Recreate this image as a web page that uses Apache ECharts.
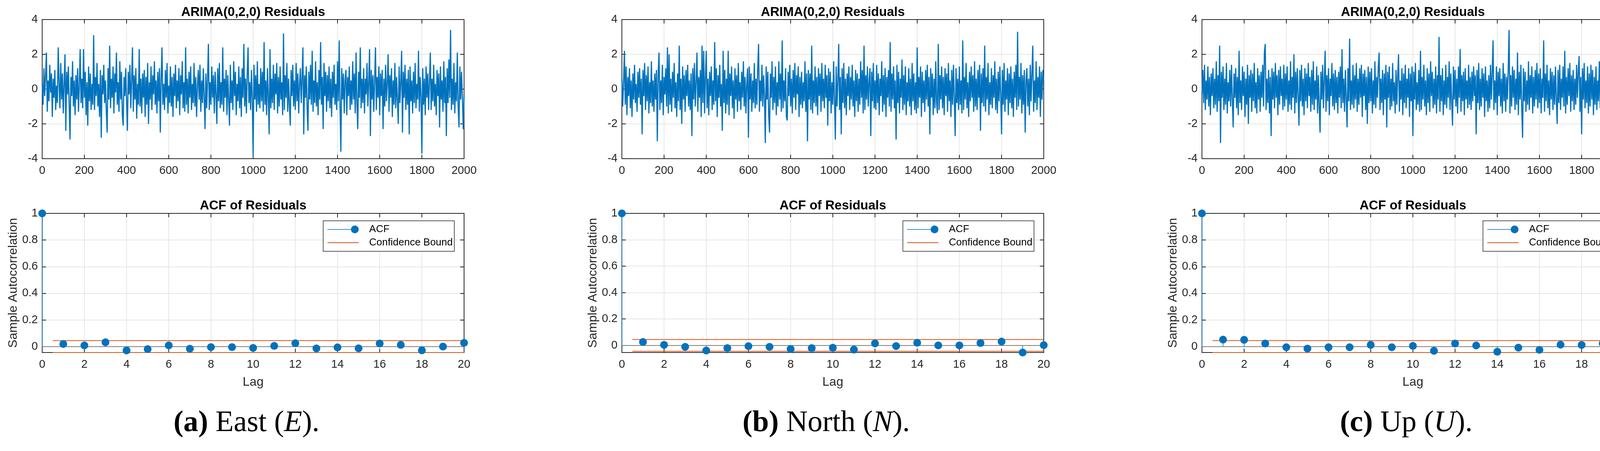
<!DOCTYPE html>
<html>
<head>
<meta charset="utf-8">
<script src="https://cdn.jsdelivr.net/npm/echarts@6/dist/echarts.min.js"></script>
<style>
html, body { margin: 0; padding: 0; background: #fff; }
#chart { width: 4205px; height: 1154px; }
</style>
</head>
<body>
<div id="chart"></div>
<script>
// residuals, one value every 4 samples (0..2000)
var resE = [
  0.3,-0.9,1.2,-0.4,0.8,2.1,-1.3,0.5,-0.7,1.4,-0.2,0.9,-1.6,0.6,-0.5,1.1,-1.2,0.2,-0.8,2.4,
  0.4,-1.1,1.5,-0.6,0.9,-1.4,0.3,2.0,-2.4,1.0,-0.3,1.3,-0.9,-2.9,0.7,-0.4,1.6,-1.0,0.5,-1.5,
  0.8,-0.6,1.2,-1.3,0.2,2.3,-0.8,0.6,-1.1,2.3,-0.5,1.0,-1.5,0.4,-2.1,1.3,-0.7,0.9,-1.2,0.3,
  -0.9,3.1,-1.2,0.7,-0.4,1.5,-1.0,0.3,-1.6,1.1,-2.8,0.8,-0.3,1.4,-0.8,0.5,-1.3,-2.5,1.2,-0.6,
  2.5,-1.1,0.6,-0.5,1.3,-1.4,0.9,-0.2,2.1,-0.9,0.4,-1.3,1.6,-0.6,1.0,-1.5,-2.1,0.7,-0.4,1.2,
  -0.7,-2.4,1.0,-0.3,1.4,-1.1,0.5,2.4,-1.3,0.8,-0.6,1.2,-1.7,0.3,-0.9,2.3,-1.0,0.6,-1.4,0.9,
  -0.5,1.1,-1.6,0.7,-0.9,1.5,-2.0,0.4,-0.6,1.3,-1.2,0.8,-0.3,1.6,-0.9,0.5,-1.4,1.0,-0.7,1.2,
  -2.5,0.6,2.4,-0.9,0.3,-1.2,1.1,-0.5,1.5,-1.4,0.2,-0.8,1.3,-1.0,0.7,-1.6,0.9,-0.4,1.4,-1.1,
  0.5,-0.7,1.2,-1.5,0.8,-0.3,1.6,-1.1,0.4,-1.3,2.4,-0.9,0.6,-1.4,1.0,-0.5,1.3,-1.2,0.3,-0.8,
  1.5,-1.0,0.7,-1.6,0.2,1.1,-0.6,1.4,-1.3,0.5,-0.8,1.2,-0.4,-2.3,0.9,-1.1,0.6,2.6,-1.2,0.4,
  -0.9,1.3,-0.5,0.8,-1.4,1.0,-0.3,-2.0,1.2,-0.7,1.5,-1.1,0.4,-0.9,2.4,-1.3,0.6,-0.5,1.1,-1.5,
  0.8,-0.6,-2.1,1.4,-0.8,0.5,-1.2,1.6,-0.4,1.0,-1.5,0.3,-0.7,1.3,-1.1,0.7,-1.6,1.2,-0.5,2.6,
  -1.0,0.6,-1.4,0.9,2.4,-0.8,0.4,-1.2,1.1,-0.5,-3.8,1.4,-0.6,0.8,-1.3,1.6,-0.9,0.3,-1.1,1.2,
  -0.7,1.0,-1.3,2.7,-0.9,0.5,-1.5,1.2,-0.4,-2.6,2.3,-1.1,0.6,-0.8,1.4,-1.2,0.9,-0.3,1.5,-1.4,
  0.7,-1.0,1.3,-0.6,0.4,-1.5,3.2,-1.2,0.8,-0.5,1.5,-1.3,0.6,-0.9,-2.1,1.1,-0.4,1.4,-1.0,0.5,
  -1.2,1.5,-0.7,0.9,-1.4,0.3,1.2,-0.8,0.6,2.4,-2.6,0.8,-0.5,1.3,-1.1,-2.4,1.0,-0.6,1.4,-0.9,
  2.2,-1.3,0.5,-0.8,1.6,-1.0,0.4,-1.5,1.1,-0.6,2.7,-0.9,0.7,-2.3,1.5,-0.4,1.0,-1.3,0.8,-0.7,
  1.3,-1.1,0.6,-1.6,1.0,-0.5,1.4,-0.9,0.3,-1.2,1.6,-0.7,2.8,-1.0,-3.6,1.2,-0.6,0.9,-1.4,0.5,
  1.1,-1.5,0.7,-0.4,1.3,-1.2,0.5,-0.9,1.6,-0.6,0.9,-1.4,2.1,-0.8,-2.3,1.0,-0.5,2.4,-1.1,0.6,
  -0.8,1.2,-1.4,0.6,-0.3,1.5,-1.0,0.4,2.3,-2.7,1.1,-0.6,0.8,-1.3,0.5,2.4,-1.2,0.7,-0.5,1.3,
  -1.5,0.9,-0.4,1.1,-2.3,0.6,-1.0,1.4,-0.7,0.3,2.0,-1.3,0.8,-0.5,1.2,-1.6,0.5,-0.9,1.5,-1.1,
  0.7,-0.6,-2.0,1.3,-0.8,0.4,2.2,-2.5,1.0,-0.5,1.4,-1.2,0.6,-0.9,1.1,-2.6,1.3,-0.7,0.5,-1.4,
  1.0,-0.8,1.5,-1.1,0.3,-0.6,2.2,-1.3,0.7,-0.4,-3.7,1.2,-0.9,0.6,-1.5,1.3,-0.5,0.9,-1.2,0.4,
  2.1,-1.2,0.6,-0.7,1.4,-1.0,0.3,-1.5,1.1,-0.4,0.9,-2.2,1.3,-0.6,0.5,-1.3,1.6,-0.8,0.7,-2.7,
  1.2,-0.8,1.7,-0.5,3.4,-1.2,0.6,-0.9,1.5,-1.4,0.4,-0.7,2.1,-1.0,-2.2,1.3,-0.6,1.0,-0.4,-2.3,
  -0.4
];
var resN = [
  0.6,-1.0,0.4,2.2,-0.9,1.3,-1.5,0.7,-0.4,1.2,-1.1,0.5,-1.6,0.9,-0.6,1.4,-0.8,0.3,-1.3,1.0,
  -0.5,1.2,-0.9,0.6,-2.6,1.1,-0.4,1.5,-1.2,0.8,-0.7,1.3,-1.4,0.4,-0.8,1.6,-1.0,0.5,-1.3,0.9,
  -0.6,1.1,-3.0,0.8,2.1,-1.2,0.5,-0.8,1.4,-1.5,0.7,-0.3,1.2,-1.0,2.4,-1.4,2.0,-0.9,0.6,-1.3,
  1.0,-0.5,1.5,-1.1,0.4,-1.6,0.9,-0.7,2.5,-1.2,0.6,-2.0,1.3,-0.6,0.8,-1.3,1.1,-0.4,1.4,-1.0,
  0.5,-1.2,0.9,-2.7,1.2,-0.6,1.5,-1.0,0.4,2.1,-1.3,0.7,-0.5,1.1,-1.6,2.5,-0.8,2.2,-1.4,0.6,
  2.2,-1.1,0.6,-1.5,1.0,-0.4,1.3,-1.2,0.5,-0.9,2.7,-0.7,1.2,-1.6,0.8,-0.5,1.4,-1.0,0.3,-2.4,
  2.2,-0.8,1.1,-1.4,0.6,-0.9,2.2,-1.5,0.9,-0.4,1.3,-1.1,0.5,-1.7,1.2,-0.6,0.8,-1.3,1.5,-0.7,
  0.4,-1.2,1.0,-0.5,1.6,-1.0,0.7,-1.4,0.3,1.2,-2.8,1.3,-0.6,0.9,-1.3,0.5,-0.8,1.5,-1.1,0.6,
  -0.9,1.2,2.6,-1.3,0.5,-0.7,1.4,-1.0,0.8,-0.4,-3.1,1.3,-0.6,1.0,-1.5,-2.5,0.9,-0.5,1.6,-1.2,
  0.7,-0.8,1.3,-1.5,0.4,-1.0,1.6,-0.6,0.9,-1.3,2.8,-1.1,0.5,-0.7,1.2,-1.6,-1.8,1.0,-0.4,1.4,
  -1.0,0.6,-1.4,1.1,-0.5,1.5,-1.2,0.8,-0.3,1.3,-1.6,0.7,-0.9,1.0,-1.1,0.4,-0.7,1.6,-1.3,0.9,
  -3.0,1.1,-0.6,0.9,-1.2,2.5,-1.4,0.5,-0.8,1.3,-1.0,0.7,-1.5,1.2,-0.4,0.9,-1.3,1.5,-0.7,0.6,
  -1.1,1.4,-0.5,0.8,-2.1,1.2,-0.7,1.0,-1.4,0.4,-0.9,1.6,-0.6,-2.9,1.3,-1.0,0.5,2.6,-1.2,0.7,
  -2.6,1.2,-0.8,1.5,-1.1,0.6,-1.5,0.9,-0.4,1.3,-1.2,0.7,-0.6,1.4,-1.0,0.5,-1.6,1.1,-0.7,0.9,
  -1.3,0.6,-0.9,1.6,-0.5,1.1,-1.4,2.5,-1.2,0.8,-0.6,1.3,-1.0,0.4,1.2,-2.7,1.0,-0.7,1.5,-1.1,
  0.5,-1.2,1.4,-0.8,0.9,-1.5,0.6,-0.4,1.6,-1.3,0.8,-0.9,1.2,-1.6,0.7,-0.5,1.1,-1.0,2.7,-1.3,
  0.9,-0.6,1.3,-1.1,0.5,-2.9,1.4,-0.8,1.0,-1.4,0.6,-0.5,1.7,-1.2,0.8,-0.9,1.3,-1.5,0.4,-0.7,
  1.2,-1.0,0.6,-1.5,1.5,-0.7,0.9,-1.2,0.4,-1.4,2.4,-1.1,0.7,-0.5,1.3,-1.6,1.0,-0.8,0.5,-1.3,
  1.1,-0.6,1.4,-1.0,0.7,-2.6,1.2,-0.5,0.9,-1.5,0.6,-1.1,1.6,-0.8,-1.4,2.6,-1.2,0.8,-0.6,1.3,
  -1.1,0.7,-1.5,1.2,-0.4,0.9,-1.3,1.5,-0.7,0.5,-1.6,1.1,-0.9,1.4,-0.5,-2.7,1.2,-0.8,0.6,-1.2,
  1.3,-0.9,0.5,-1.4,2.8,-1.2,0.7,-0.6,1.5,-1.1,0.4,-1.6,1.0,-0.7,1.3,-0.5,0.8,-1.3,1.6,-1.0,
  0.6,-1.2,1.1,-0.5,1.4,-2.4,0.9,-0.8,1.2,-1.0,2.5,-1.3,0.7,-0.6,1.5,-1.5,0.4,-0.9,1.2,-1.1,
  0.8,-0.5,1.6,-1.2,0.6,-1.4,1.0,-0.7,1.3,-0.4,-2.6,1.1,-0.9,1.5,-1.3,0.5,-0.6,1.2,-1.5,0.9,
  -0.8,1.3,-1.1,0.6,-1.6,1.0,-0.5,1.4,-1.2,3.3,-1.0,0.7,-0.6,1.5,-1.4,0.8,-0.9,1.1,-2.5,0.5,
  1.2,-1.0,0.6,-1.5,1.4,-0.7,0.9,2.5,-1.3,0.5,-0.8,1.6,-1.2,0.7,-0.5,1.3,-1.6,1.0,-0.6,1.1,
  0.4
];
var resU = [
  -0.3,1.1,-0.8,1.4,-1.2,0.5,-0.6,1.3,-1.0,0.7,-1.5,0.9,-0.4,1.2,-1.1,0.6,-0.9,1.6,-1.3,0.8,
  -0.7,2.5,-3.1,1.0,-0.5,1.3,-1.2,0.6,-0.9,1.5,-1.4,0.4,-0.7,1.1,-1.0,1.4,-0.6,-2.2,0.9,-0.5,
  1.2,-1.1,0.7,-1.5,2.2,-0.8,0.5,-1.2,1.3,-0.4,1.0,-1.6,0.6,-0.9,1.4,-2.0,0.8,-0.5,1.1,-1.3,
  0.9,-0.7,1.5,-1.1,0.4,-1.4,1.2,-0.6,0.8,-1.3,1.0,-0.5,1.4,-1.0,2.1,2.6,-1.2,0.6,-0.8,1.1,
  -1.4,0.7,-2.7,1.2,-0.6,1.0,-1.1,1.5,-0.5,0.8,-1.5,1.1,-0.9,1.3,-0.4,0.6,-1.2,1.4,-1.0,0.9,
  -0.6,1.3,-1.3,0.5,-0.9,1.6,-1.2,0.7,-0.5,2.0,-1.4,1.0,-0.8,1.2,-0.4,-2.1,1.1,-0.7,1.4,-1.0,
  0.6,-1.5,1.2,-0.7,0.9,-1.1,1.5,-0.4,0.7,-1.3,1.1,-0.9,1.6,-1.2,0.5,-0.6,1.3,-1.4,0.8,-1.0,
  -2.5,1.0,-0.6,1.4,-1.1,0.5,2.2,-1.3,0.8,-0.7,1.2,-1.5,0.6,-0.4,1.5,-1.0,0.9,-1.2,1.1,-0.8,
  0.7,-1.4,1.0,-0.5,1.3,-1.1,2.3,-0.8,0.6,-1.3,1.1,-0.6,-2.2,1.2,-0.7,2.9,-1.2,0.5,-0.9,1.4,
  -1.1,0.8,-0.6,1.5,-1.3,0.6,-0.9,1.2,-0.5,1.4,-1.6,0.9,-0.4,1.1,-1.2,0.7,-2.0,1.3,-0.8,1.0,
  -0.7,1.2,-1.4,0.5,-0.9,1.6,-1.1,0.7,-0.5,1.3,2.1,-1.2,0.6,-0.8,1.1,-1.5,0.9,-0.6,1.4,-2.2,
  1.0,-0.5,1.3,-1.2,0.6,-1.0,1.5,-0.7,0.4,-1.4,1.1,-0.9,0.8,2.0,-1.3,0.5,-0.6,1.2,-1.5,0.9,
  -0.8,1.4,-1.1,0.6,-0.5,1.2,-1.6,0.9,-0.7,1.3,-2.7,1.0,-0.6,1.5,-1.2,0.4,-0.9,1.1,-1.3,2.2,
  -1.2,0.7,-0.6,1.4,-1.0,0.5,-1.5,1.2,-0.8,0.9,-1.3,1.6,-0.4,1.0,-1.1,0.6,-0.9,1.3,-1.4,0.8,
  -0.6,3.0,-1.3,0.8,-0.7,1.2,-1.5,0.5,-0.9,1.4,-1.1,0.7,-0.5,1.6,-1.2,0.9,-0.8,-2.1,1.3,-0.6,
  1.1,-1.0,0.6,-1.4,1.3,-0.5,2.3,-1.3,0.8,-0.7,1.0,-1.5,1.2,-0.6,0.5,-1.1,1.4,-0.9,0.7,-1.2,
  1.0,-0.7,1.3,-0.4,0.8,-2.6,1.1,-0.8,1.5,-1.2,0.6,-1.0,1.2,-0.5,0.9,-1.6,1.3,-0.7,0.5,-1.3,
  0.8,-1.1,1.4,-0.6,0.9,2.8,-1.2,0.5,-0.8,1.3,-1.5,1.0,-0.4,1.2,-1.0,0.6,-1.4,1.5,-0.7,0.9,
  -1.3,0.7,-0.6,1.2,3.4,-1.4,0.8,-1.0,1.3,-0.5,1.1,-1.2,0.6,-0.9,2.1,-1.5,1.0,-0.6,1.4,-1.1,
  -2.8,1.2,-0.7,1.0,-1.3,0.5,-0.9,1.6,-1.2,0.8,-0.5,1.3,-1.4,0.7,-1.0,1.1,-0.6,1.5,-1.1,0.9,
  -0.8,1.2,-1.4,0.6,-0.5,2.8,-1.3,0.9,-0.7,1.4,-1.1,0.5,-1.5,1.2,-0.6,1.0,-1.2,0.8,-0.9,1.3,
  -0.6,-2.0,1.1,-0.8,1.4,-1.2,0.6,-0.5,1.3,-1.0,2.2,-1.4,0.7,-0.9,1.2,-0.4,1.5,-1.3,0.8,-0.7,
  1.1,-1.2,0.6,-0.9,1.4,-0.5,1.0,1.9,-1.3,0.7,-2.6,1.2,-0.6,1.5,-1.1,0.5,-0.8,1.3,-1.4,0.9,
  -1.0,1.4,-0.6,1.1,-1.5,0.7,-0.9,1.3,-1.2,0.5,-0.7,1.6,-1.1,0.8,-0.5,1.2,-1.4,1.0,-0.8,1.3,
  -0.6,2.7,-1.2,0.9,-0.7,-2.5,1.3,-1.0,0.6,-1.4,1.1,-0.5,1.2,-1.3,0.8,-0.9,1.5,-1.1,0.6,1.3,
  0.2
];
var resStep = 4;

// sample autocorrelation, lags 0..20
var lags = [0,1,2,3,4,5,6,7,8,9,10,11,12,13,14,15,16,17,18,19,20];
var acfE = [1,0.019,0.009,0.032,-0.029,-0.019,0.009,-0.016,-0.004,-0.004,-0.010,0.005,0.025,-0.014,-0.006,-0.013,0.023,0.013,-0.028,0.000,0.028];
var acfN = [1,0.026,0.004,-0.011,-0.039,-0.021,-0.006,-0.011,-0.027,-0.021,-0.018,-0.032,0.015,-0.005,0.020,0.000,0.000,0.018,0.029,-0.054,0.002];
var acfU = [1,0.052,0.051,0.023,-0.005,-0.015,-0.005,-0.005,0.013,-0.005,0.005,-0.032,0.023,0.008,-0.039,-0.008,-0.025,0.014,0.012,0.023,0.027];
var confBound = 0.0447;
var boundLags = [0.5, 20];

var resTitle = 'ARIMA(0,2,0) Residuals';
var acfTitle = 'ACF of Residuals';
var capTags = ['(a)', '(b)', '(c)'];
var capNames = ['East', 'North', 'Up'];
var capSymbols = ['E', 'N', 'U'];

var W = 4205;
var panelLeft = [108, 1592, 3077];
var plotW = 1080, plotH = 356;
var resTop = 50, acfTop = 546;

var sans = "'Liberation Sans', Arial, Helvetica, sans-serif";
var serif = "'Liberation Serif', 'Times New Roman', serif";
var axisColor = '#262626';
var blue = '#0072BD', orange = '#D95319';

var option = {
    animation: false,
    backgroundColor: '#ffffff',
    grid: [], xAxis: [], yAxis: [], series: [], legend: [], graphic: []
};

function plain(v) { return String(v); }

function addAxes(g, xr, yr, xName, yName, hideMinY) {
    var line = { show: true, onZero: false, lineStyle: { color: axisColor, width: 2 } };
    var tick = { show: true, inside: true, length: 10, lineStyle: { color: axisColor, width: 2 } };
    var split = { show: true, lineStyle: { color: '#dfdfdf', width: 1.5 } };
    var lab = { fontFamily: sans, fontSize: 29, color: axisColor };
    option.xAxis.push(Object.assign({
        type: 'value', gridIndex: g, position: 'bottom',
        axisLine: line, axisTick: tick, splitLine: split,
        axisLabel: Object.assign({ margin: 16, formatter: plain }, lab),
        name: xName || '', nameLocation: 'middle', nameGap: 60,
        nameTextStyle: { fontFamily: sans, fontSize: 32, color: axisColor }
    }, xr));
    option.xAxis.push(Object.assign({
        type: 'value', gridIndex: g, position: 'top',
        axisLine: line, axisTick: tick, splitLine: { show: false }, axisLabel: { show: false }
    }, xr));
    option.yAxis.push(Object.assign({
        type: 'value', gridIndex: g, position: 'left',
        axisLine: line, axisTick: tick, splitLine: split,
        axisLabel: Object.assign({ margin: 11, formatter: plain, showMinLabel: !hideMinY }, lab),
        name: yName || '', nameLocation: 'middle', nameGap: 58,
        nameTextStyle: { fontFamily: sans, fontSize: 32, color: axisColor }
    }, yr));
    option.yAxis.push(Object.assign({
        type: 'value', gridIndex: g, position: 'right',
        axisLine: line, axisTick: tick, splitLine: { show: false }, axisLabel: { show: false }
    }, yr));
}

function addTitle(text, cx, cy) {
    option.graphic.push({
        type: 'text', x: cx, y: cy, silent: true,
        style: { text: text, fill: '#000', fontFamily: sans, fontSize: 33, fontWeight: 'bold', align: 'center', verticalAlign: 'middle' }
    });
}

// legend icons: stem line with a marker at its end, and a plain bound line
var acfIcon = 'path://M0,9.25L70,9.25L70,10.75L0,10.75Z M80,10A10,10,0,1,1,60,10A10,10,0,1,1,80,10Z';
var boundIcon = 'path://M0,0L80,0L80,2L0,2Z';

[[resE, acfE], [resN, acfN], [resU, acfU]].forEach(function (pair, p) {
    var res = pair[0], acf = pair[1];
    var left = panelLeft[p];

    // residual series
    var g = option.grid.length;
    option.grid.push({ left: left, top: resTop, width: plotW, height: plotH, containLabel: false, outerBoundsMode: 'none' });
    addAxes(g, { min: 0, max: 2000, interval: 200 }, { min: -4, max: 4, interval: 2 });
    option.series.push({
        type: 'line', xAxisIndex: 2 * g, yAxisIndex: 2 * g, silent: true,
        data: res.map(function (v, i) { return [i * resStep, v]; }),
        symbol: 'none', showSymbol: false, sampling: null,
        lineStyle: { color: blue, width: 3 }, itemStyle: { color: blue }, z: 2
    });
    addTitle(resTitle, left + plotW / 2, 32);

    // ACF stem plot
    var ymin = Math.min(Math.min.apply(null, acf), -confBound);
    g = option.grid.length;
    option.grid.push({ left: left, top: acfTop, width: plotW, height: plotH, containLabel: false, outerBoundsMode: 'none' });
    addAxes(g, { min: 0, max: 20, interval: 2 }, { min: ymin, max: 1, splitNumber: 5 }, 'Lag', 'Sample Autocorrelation', true);
    var pts = lags.map(function (l, i) { return [l, acf[i]]; });
    option.series.push({
        type: 'scatter', name: 'ACF', xAxisIndex: 2 * g, yAxisIndex: 2 * g, silent: true,
        data: pts, symbol: 'circle', symbolSize: 20, clip: false,
        itemStyle: { color: blue, opacity: 1 }, z: 5
    });
    option.series.push({
        type: 'bar', name: 'ACF', xAxisIndex: 2 * g, yAxisIndex: 2 * g, silent: true,
        data: pts, barWidth: 1.5, itemStyle: { color: blue }, z: 4,
        markLine: {
            silent: true, symbol: ['none', 'none'], label: { show: false },
            lineStyle: { color: '#808080', width: 2, type: 'solid' },
            data: [{ yAxis: 0 }]
        }
    });
    [confBound, -confBound].forEach(function (b) {
        option.series.push({
            type: 'line', name: 'Confidence Bound', xAxisIndex: 2 * g, yAxisIndex: 2 * g, silent: true,
            data: boundLags.map(function (l) { return [l, b]; }),
            symbol: 'none', showSymbol: false,
            lineStyle: { color: orange, width: 2 }, itemStyle: { color: orange }, z: 3
        });
    });
    addTitle(acfTitle, left + plotW / 2, 527);

    option.legend.push({
        orient: 'vertical', right: W - (left + plotW - 25), top: 565,
        data: [{ name: 'ACF', icon: acfIcon }, { name: 'Confidence Bound', icon: boundIcon }],
        itemWidth: 80, itemHeight: 20, itemGap: 8, padding: [9, 4, 9, 11],
        symbolKeepAspect: true,
        borderColor: axisColor, borderWidth: 1.5, backgroundColor: '#fff',
        selectedMode: false, z: 10,
        formatter: function (n) { return '   ' + n; },
        textStyle: { fontFamily: sans, fontSize: 26, color: '#000' }
    });

    // caption under the panel
    option.graphic.push({
        type: 'text', x: left + 523, y: 1083, silent: true,
        style: {
            text: '{b|' + capTags[p] + '} ' + capNames[p] + ' ({i|' + capSymbols[p] + '}).',
            fill: '#000', fontFamily: serif, fontSize: 76, align: 'center', verticalAlign: 'middle',
            rich: {
                b: { fontFamily: serif, fontSize: 76, fontWeight: 'bold', fill: '#000' },
                i: { fontFamily: serif, fontSize: 76, fontStyle: 'italic', fill: '#000' }
            }
        }
    });
});

var chart = echarts.init(document.getElementById('chart'), null, { renderer: 'canvas' });
chart.setOption(option);
</script>
</body>
</html>
